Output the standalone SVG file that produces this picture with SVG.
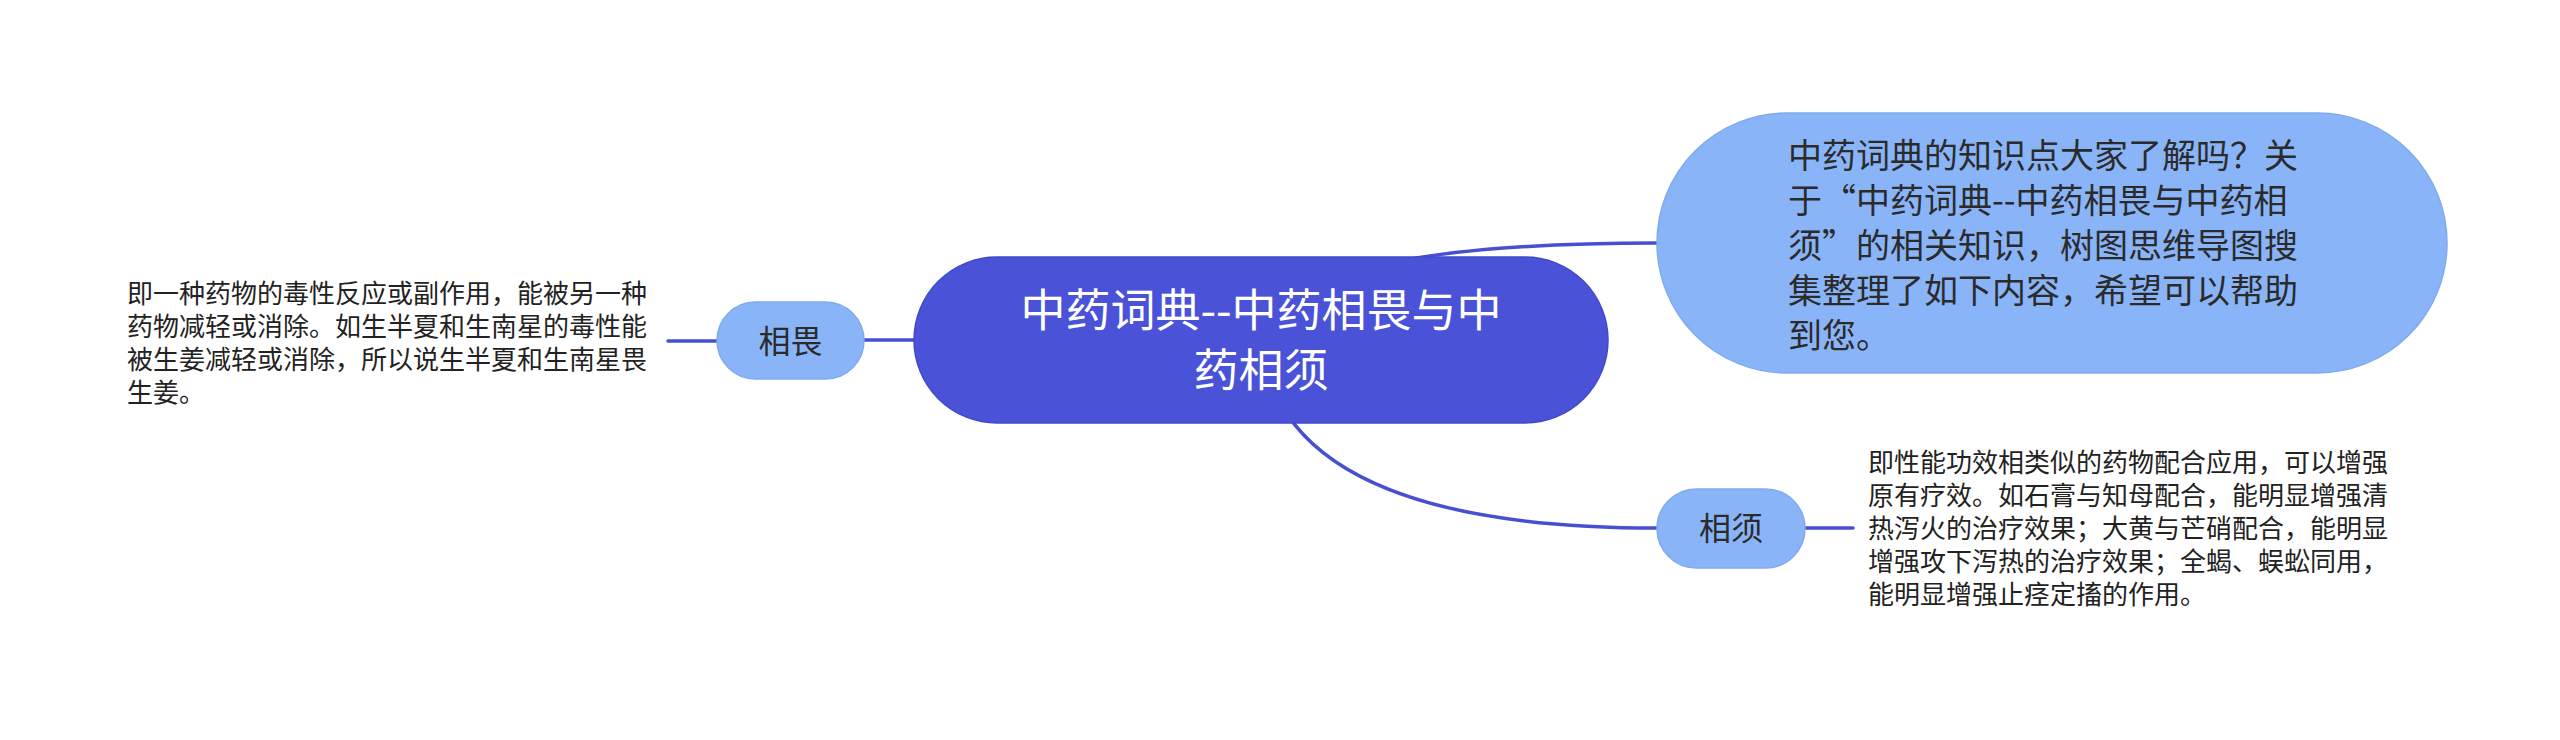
<svg xmlns="http://www.w3.org/2000/svg" width="2560" height="740" viewBox="0 0 2560 740">
<style>
.conn{fill:none;stroke:#4650d0;stroke-width:3.5;stroke-linecap:round}
.t{font-family:"Noto Sans CJK SC","Noto Sans",sans-serif}
.main{fill:#4a52d8;stroke:#4149c8;stroke-width:1.5}
.sub{fill:#8ab4f8;stroke:#80aaf0;stroke-width:1.5}
.dark{fill:#2b2b2b}
.plain{fill:#222222}
</style>
<rect width="2560" height="740" fill="#ffffff"/>
<g id="connectors">
<path class="conn" d="M1261 340 Q1280 243 1657 243"/>
<path class="conn" d="M1261 340 Q1280 528 1657 528"/>
<path class="conn" d="M914 340 L864 340"/>
<path class="conn" d="M717 341 L668 341"/>
<path class="conn" d="M1805 528 L1853 528"/>
</g>
<g id="root">
<rect class="main" x="914" y="257" width="694" height="166" rx="83"/>
<text class="t" font-size="45" fill="#ffffff" text-anchor="middle"><tspan x="1261" y="327">中药词典--中药相畏与中</tspan><tspan x="1261" y="387">药相须</tspan></text>
</g>
<g id="intro">
<rect class="sub" x="1657" y="113" width="790" height="260" rx="130"/>
<text class="t dark" font-size="34"><tspan x="1788" y="168">中药词典的知识点大家了解吗？关</tspan><tspan x="1788" y="213">于“中药词典--中药相畏与中药相</tspan><tspan x="1788" y="258">须”的相关知识，树图思维导图搜</tspan><tspan x="1788" y="303">集整理了如下内容，希望可以帮助</tspan><tspan x="1788" y="348">到您。</tspan></text>
</g>
<g id="xiangwei">
<rect class="sub" x="717" y="302" width="147" height="77" rx="38.5"/>
<text class="t dark" font-size="32" text-anchor="middle" x="790.5" y="353">相畏</text>
</g>
<g id="xiangwei-note">
<text class="t plain" font-size="26"><tspan x="127" y="303">即一种药物的毒性反应或副作用，能被另一种</tspan><tspan x="127" y="336">药物减轻或消除。如生半夏和生南星的毒性能</tspan><tspan x="127" y="369">被生姜减轻或消除，所以说生半夏和生南星畏</tspan><tspan x="127" y="402">生姜。</tspan></text>
</g>
<g id="xiangxu">
<rect class="sub" x="1657" y="489" width="148" height="79" rx="39.5"/>
<text class="t dark" font-size="32" text-anchor="middle" x="1731" y="540">相须</text>
</g>
<g id="xiangxu-note">
<text class="t plain" font-size="26"><tspan x="1868" y="472">即性能功效相类似的药物配合应用，可以增强</tspan><tspan x="1868" y="505">原有疗效。如石膏与知母配合，能明显增强清</tspan><tspan x="1868" y="538">热泻火的治疗效果；大黄与芒硝配合，能明显</tspan><tspan x="1868" y="571">增强攻下泻热的治疗效果；全蝎、蜈蚣同用，</tspan><tspan x="1868" y="604">能明显增强止痉定搐的作用。</tspan></text>
</g>
</svg>
